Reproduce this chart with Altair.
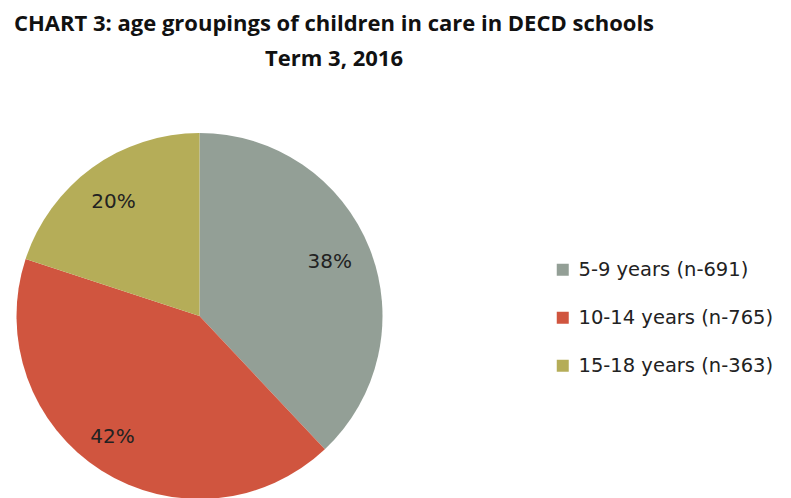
import altair as alt
import pandas as pd

groups = ["5-9 years (n-691)", "10-14 years (n-765)", "15-18 years (n-363)"]
counts = [691, 765, 363]
pct_labels = ["38%", "42%", "20%"]
colors = ["#939F96", "#D0553F", "#B5AD58"]

df = pd.DataFrame({"group": groups, "count": counts, "label": pct_labels, "order": [0, 1, 2]})

W, H = 775, 420
cx, cy = 191.5, 235
R = 183
TITLE_FONT = "Open Sans"
FONT = "DejaVu Sans"

pie = alt.Chart(df).mark_arc(radius=R, stroke=None).encode(
    theta=alt.Theta("count:Q", stack=True),
    order=alt.Order("order:Q"),
    x=alt.value(cx),
    y=alt.value(cy),
    color=alt.Color(
        "group:N",
        sort=groups,
        scale=alt.Scale(domain=groups, range=colors),
        legend=alt.Legend(
            title=None,
            orient="none",
            legendX=545,
            legendY=179,
            symbolType="square",
            symbolSize=144,
            symbolStrokeWidth=0,
            labelFont=FONT,
            labelFontSize=19.5,
            labelColor="#222222",
            labelOffset=6,
            labelLimit=400,
            rowPadding=27,
            padding=0,
        ),
    ),
)

labels_base = (
    alt.Chart(df)
    .transform_joinaggregate(total="sum(count)")
    .transform_window(cum="sum(count)", sort=[alt.SortField("order")])
    .transform_calculate(ang="2*PI*(datum.cum - datum.count/2)/datum.total")
)

offsets = {"38%": (2, -3), "42%": (-13, 5), "20%": (-5, -2)}
texts = []
for lab in pct_labels:
    dx, dy = offsets[lab]
    texts.append(
        labels_base.transform_filter(alt.datum.label == lab)
        .mark_text(radius=138, font=FONT, fontSize=20, color="#222222", dx=dx, dy=dy)
        .encode(
            theta=alt.Theta("ang:Q", scale=None),
            x=alt.value(cx),
            y=alt.value(cy),
            text="label:N",
        )
    )

chart = alt.layer(pie, *texts).properties(
    width=W,
    height=H,
    padding={"top": 5, "left": 0, "right": 0, "bottom": 0},
    title=alt.TitleParams(
        ["CHART 3: age groupings of children in care in DECD schools", "Term 3, 2016"],
        font=TITLE_FONT,
        fontSize=22,
        fontWeight="bold",
        color="#111111",
        lineHeight=35,
        anchor="start",
        align="center",
        dx=326,
        offset=10,
    ),
).configure_view(stroke=None)

chart.save("out.html", embed_options={"renderer": "svg", "actions": False})
